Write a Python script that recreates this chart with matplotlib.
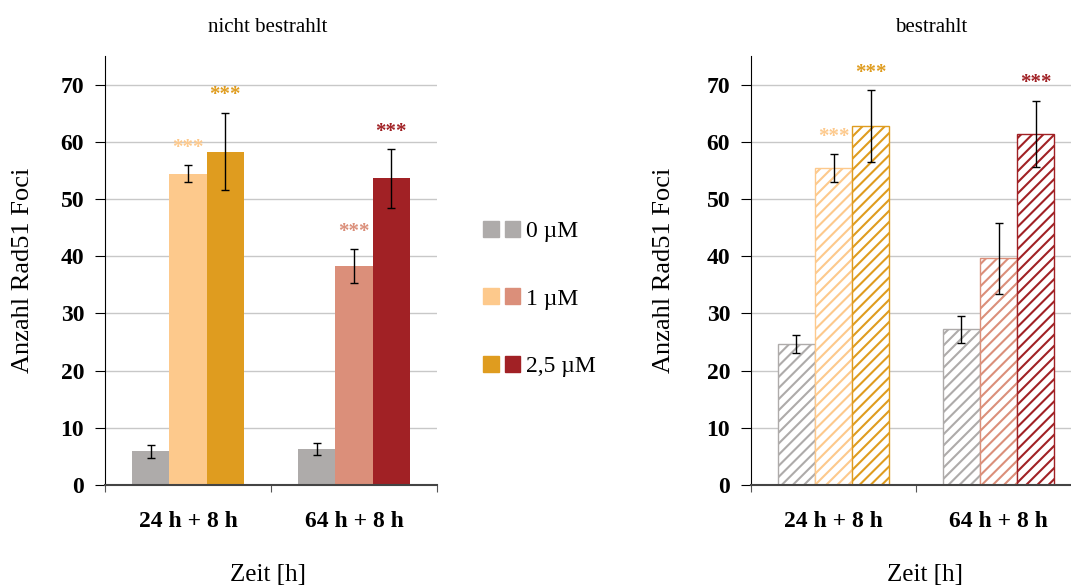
import matplotlib
matplotlib.use("Agg")
import matplotlib.pyplot as plt
import numpy as np
from matplotlib.patches import Patch
from matplotlib.legend_handler import HandlerTuple

plt.rcParams['font.family'] = ['Liberation Serif', 'DejaVu Serif']
plt.rcParams['hatch.linewidth'] = 1.5

# data
groups = ["24 h + 8 h", "64 h + 8 h"]
conc_labels = ["0 µM", "1 µM", "2,5 µM"]

# colours per group (0 uM, 1 uM, 2.5 uM)
colors = [["#AEABAA", "#FDC98C", "#DF9C1F"],
          ["#AEABAA", "#DB8F7A", "#A12125"]]

# nicht bestrahlt
mean_nb = [[5.9, 54.4, 58.3], [6.3, 38.3, 53.6]]
err_nb = [[1.1, 1.5, 6.8], [1.0, 2.9, 5.1]]
sig_nb = [["", "***", "***"], ["", "***", "***"]]

# bestrahlt
mean_b = [[24.6, 55.4, 62.7], [27.2, 39.6, 61.4]]
err_b = [[1.6, 2.5, 6.3], [2.4, 6.2, 5.8]]
sig_b = [["", "***", "***"], ["", "", "***"]]

W, H = 1071, 587
fig = plt.figure(figsize=(W / 100, H / 100), dpi=100)


def px_rect(x0, x1, y0, y1):
    return [x0 / W, (H - y1) / H, (x1 - x0) / W, (y1 - y0) / H]


def bar_panel(ax, means, errs, sigs, hatched):
    width = 0.223
    offsets = [-0.225, 0.0, 0.225]
    for g in range(len(groups)):
        for k in range(3):
            x = g + offsets[k]
            c = colors[g][k]
            if hatched:
                ax.bar(x, means[g][k], width, facecolor="white", edgecolor=c,
                       hatch="///", linewidth=1.0, zorder=2)
            else:
                ax.bar(x, means[g][k], width, color=c, linewidth=0, zorder=2)
            ax.errorbar(x, means[g][k], yerr=errs[g][k], fmt="none",
                        ecolor="black", elinewidth=1.0, capsize=3,
                        capthick=1.0, zorder=3)
            if sigs[g][k]:
                ax.text(x, means[g][k] + errs[g][k] + 3.0, sigs[g][k],
                        color=c, ha="center", va="center", fontsize=15,
                        fontweight="bold")
    ax.set_xlim(-0.5, 1.5)
    ax.set_ylim(0, 75)
    ax.set_yticks(np.arange(0, 71, 10))
    ax.yaxis.grid(True, color="#C8C8C8", linewidth=1.0, zorder=0)
    ax.set_axisbelow(True)
    ax.set_xticks([-0.5, 0.5, 1.5])
    ax.set_xticklabels([])
    ax.set_xticks([0, 1], minor=True)
    ax.set_xticklabels(groups, minor=True, fontsize=17, fontweight="bold")
    ax.tick_params(axis="x", which="major", length=5, color="#555555")
    ax.tick_params(axis="x", which="minor", length=0, pad=19)
    ax.tick_params(axis="y", length=7, pad=8, labelsize=17)
    for lab in ax.get_yticklabels():
        lab.set_fontweight("bold")
    for s in ["top", "right"]:
        ax.spines[s].set_visible(False)
    ax.spines["left"].set_color("black")
    ax.spines["bottom"].set_color("#444444")
    ax.spines["bottom"].set_linewidth(1.5)
    ax.set_ylabel("Anzahl Rad51 Foci", fontsize=19)


ax1 = fig.add_axes(px_rect(105, 437, 56, 485))
bar_panel(ax1, mean_nb, err_nb, sig_nb, hatched=False)
ax1.yaxis.set_label_coords(-0.214, 0.5)

ax2 = fig.add_axes(px_rect(751, 1081, 56, 485))
bar_panel(ax2, mean_b, err_b, sig_b, hatched=True)
ax2.yaxis.set_label_coords(-0.23, 0.5)

fig.text(268 / W, 1 - 27 / H, "nicht bestrahlt", ha="center", va="center",
         fontsize=15)
fig.text(931 / W, 1 - 27 / H, "bestrahlt", ha="center", va="center",
         fontsize=15)
fig.text(268 / W, 1 - 575 / H, "Zeit [h]", ha="center", va="center",
         fontsize=18)
fig.text(925 / W, 1 - 575 / H, "Zeit [h]", ha="center", va="center",
         fontsize=18)

# legend: two swatches per concentration (one per time point)
handles = [(Patch(color=colors[0][k]), Patch(color=colors[1][k]))
           for k in range(3)]
fig.legend(handles, conc_labels, loc="center left",
           bbox_to_anchor=(462 / W, 1 - 299 / H), frameon=False,
           fontsize=17, handler_map={tuple: HandlerTuple(ndivide=None, pad=0.25)},
           handlelength=1.55, handleheight=0.65, handletextpad=0.25,
           labelspacing=1.96)

fig.savefig("out.png", dpi=100)
